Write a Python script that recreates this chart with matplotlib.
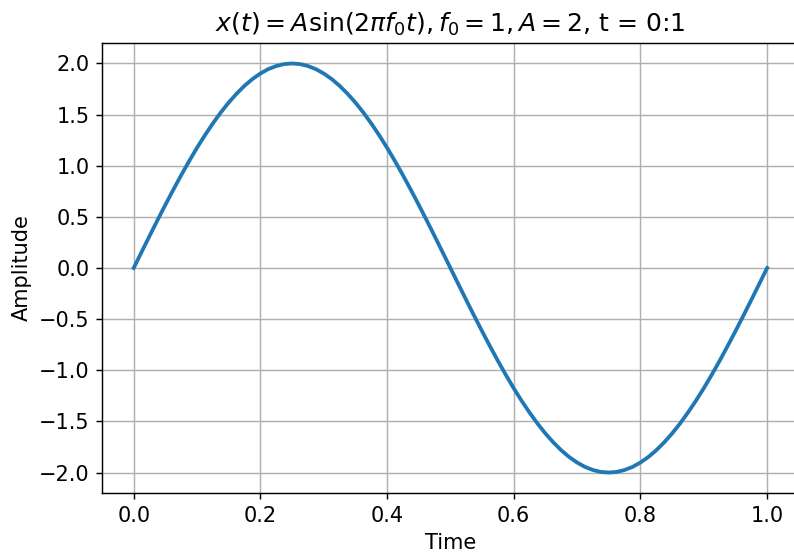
import matplotlib
matplotlib.use("Agg")
import matplotlib.pyplot as plt

plt.rcParams["font.size"] = 11.6

# Werte (Schritt 0.0125)
t = [0.0, 0.0125, 0.025, 0.0375, 0.05, 0.0625, 0.075, 0.0875, 0.1, 0.1125,
     0.125, 0.1375, 0.15, 0.1625, 0.175, 0.1875, 0.2, 0.2125, 0.225, 0.2375,
     0.25, 0.2625, 0.275, 0.2875, 0.3, 0.3125, 0.325, 0.3375, 0.35, 0.3625,
     0.375, 0.3875, 0.4, 0.4125, 0.425, 0.4375, 0.45, 0.4625, 0.475, 0.4875,
     0.5, 0.5125, 0.525, 0.5375, 0.55, 0.5625, 0.575, 0.5875, 0.6, 0.6125,
     0.625, 0.6375, 0.65, 0.6625, 0.675, 0.6875, 0.7, 0.7125, 0.725, 0.7375,
     0.75, 0.7625, 0.775, 0.7875, 0.8, 0.8125, 0.825, 0.8375, 0.85, 0.8625,
     0.875, 0.8875, 0.9, 0.9125, 0.925, 0.9375, 0.95, 0.9625, 0.975, 0.9875, 1.0]
x = [0.000, 0.157, 0.313, 0.467, 0.618, 0.765, 0.908, 1.045, 1.176, 1.299,
     1.414, 1.521, 1.618, 1.705, 1.782, 1.848, 1.902, 1.945, 1.975, 1.994,
     2.000, 1.994, 1.975, 1.945, 1.902, 1.848, 1.782, 1.705, 1.618, 1.521,
     1.414, 1.299, 1.176, 1.045, 0.908, 0.765, 0.618, 0.467, 0.313, 0.157,
     0.000, -0.157, -0.313, -0.467, -0.618, -0.765, -0.908, -1.045, -1.176, -1.299,
     -1.414, -1.521, -1.618, -1.705, -1.782, -1.848, -1.902, -1.945, -1.975, -1.994,
     -2.000, -1.994, -1.975, -1.945, -1.902, -1.848, -1.782, -1.705, -1.618, -1.521,
     -1.414, -1.299, -1.176, -1.045, -0.908, -0.765, -0.618, -0.467, -0.313, -0.157, 0.000]

fig = plt.figure(figsize=(794 / 130, 555 / 130), dpi=130)
ax = fig.add_axes([0.1285, 0.1117, 0.8775, 0.8108])

ax.plot(t, x, color="#1f77b4", linewidth=2.1)
ax.set_xlim(-0.05, 1.05)
ax.set_ylim(-2.2, 2.2)
ax.set_title(r"$x(t) = A\sin(2\pi f_0 t), f_0 = 1, A = 2$, t = 0:1")
ax.set_xlabel("Time")
ax.set_ylabel("Amplitude")
ax.grid(True)

fig.savefig("out.png", dpi=130)
